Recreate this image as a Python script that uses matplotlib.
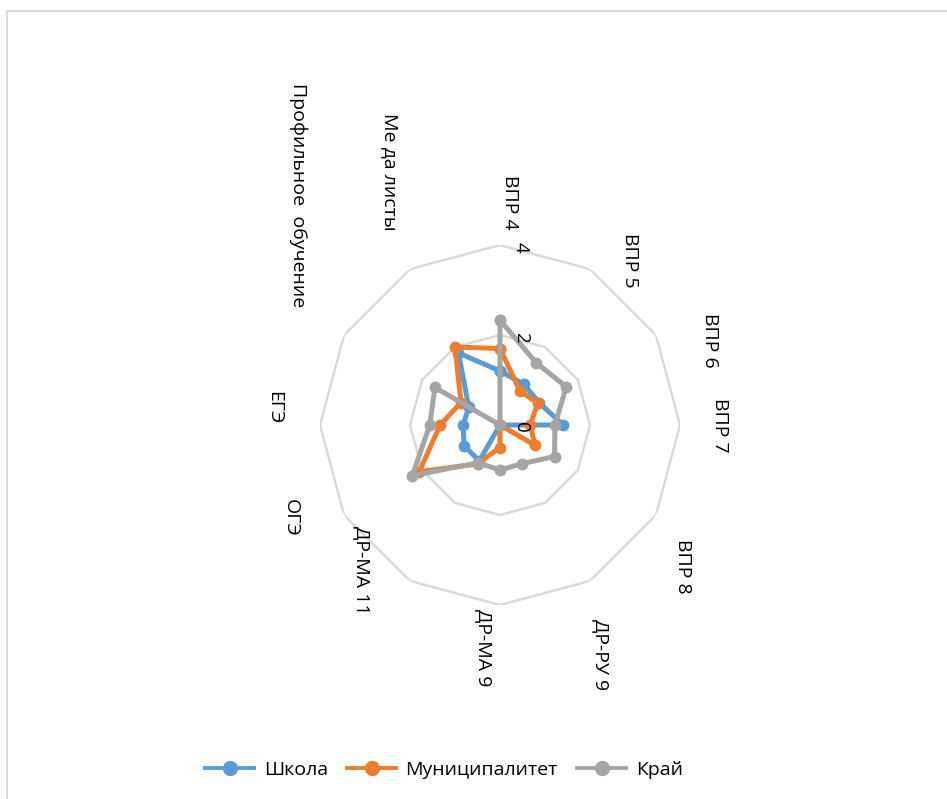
import numpy as np
import matplotlib
matplotlib.use("Agg")
import matplotlib.pyplot as plt
from matplotlib.lines import Line2D

plt.rcParams['font.family'] = ['Open Sans', 'DejaVu Sans']

categories = ["ВПР 4", "ВПР 5", "ВПР 6", "ВПР 7", "ВПР 8", "ДР-РУ 9",
              "ДР-МА 9", "ДР-МА 11", "ОГЭ", "ЕГЭ", "Профильное  обучение",
              "Ме да листы"]
school = [1.2, 1.05, 1.0, 1.4, 0, 0, 0, 0.92, 0.92, 0.82, 0.8, 1.85]
municipality = [1.7, 0.88, 0.97, 0.67, 0.9, 0, 0.5, 1.0, 2.07, 1.33, 1.0, 2.0]
region = [2.33, 1.6, 1.7, 1.22, 1.4, 0.99, 1.0, 0.97, 2.25, 1.56, 1.67, 0]
series_names = ["Школа", "Муниципалитет", "Край"]
r_ticks = [0, 2, 4]

colors = ["#5B9BD5", "#ED7D31", "#A5A5A5"]

# where excel put the rotated category labels: (angle deg, radius)
label_pos = [(2.6, 4.96), (38.2, 4.67), (68, 5.03), (90, 4.89), (127.6, 5.13),
             (156.3, 5.58), (184.1, 4.97), (223.6, 4.45), (246, 5.08),
             (274.3, 5.04), (318.7, 6.8), (336.5, 6.13)]

W, H = 947, 799
fig = plt.figure(figsize=(W / 100, H / 100), dpi=100)
cx, cy, R = 500, 425, 180
ax = fig.add_axes([(cx - R) / W, (H - cy - R) / H, 2 * R / W, 2 * R / H],
                  projection='polar')
ax.set_theta_zero_location('N')
ax.set_theta_direction(-1)
ax.set_ylim(0, 4)
ax.grid(False)
ax.spines['polar'].set_visible(False)
ax.set_xticks([])
ax.set_yticks([])
ax.patch.set_alpha(0)

n = len(categories)
theta = np.linspace(0, 2 * np.pi, n, endpoint=False)
th_closed = np.append(theta, theta[0])

# polygon gridlines
for t in r_ticks[1:]:
    ax.plot(th_closed, [t] * (n + 1), color="#D9D9D9", lw=1.8, zorder=1)

for vals, c, name in zip([school, municipality, region], colors, series_names):
    v = np.append(vals, vals[0])
    ax.plot(th_closed, v, color=c, lw=3.6, marker='o', ms=7.5, mfc=c,
            mec=c, label=name, zorder=3, solid_joinstyle='round')

for t in r_ticks:
    ax.annotate(str(t), xy=(0, t), xytext=(15, -2), textcoords='offset points',
                rotation=-90, ha='center', va='center', fontsize=13.5, zorder=4)

for lab, (a, r) in zip(categories, label_pos):
    ax.text(np.deg2rad(a), r, lab, rotation=-90, ha='center', va='center',
            fontsize=14, clip_on=False)

leg = fig.legend(loc='center', bbox_to_anchor=(444 / W, 1 - 770 / H), ncol=3,
                 frameon=False, fontsize=14, handlelength=2.5,
                 columnspacing=1.0, handletextpad=0.5)
for h in leg.legend_handles:
    h.set_linewidth(2.8)
    h.set_markersize(10)

# chart area border (top and left visible)
fig.add_artist(Line2D([7 / W, 7 / W], [0, 1 - 11 / H], color="#D9D9D9",
                      lw=1.5, transform=fig.transFigure))
fig.add_artist(Line2D([7 / W, 1], [1 - 11 / H, 1 - 11 / H], color="#D9D9D9",
                      lw=1.5, transform=fig.transFigure))

fig.savefig("out.png", dpi=100)
